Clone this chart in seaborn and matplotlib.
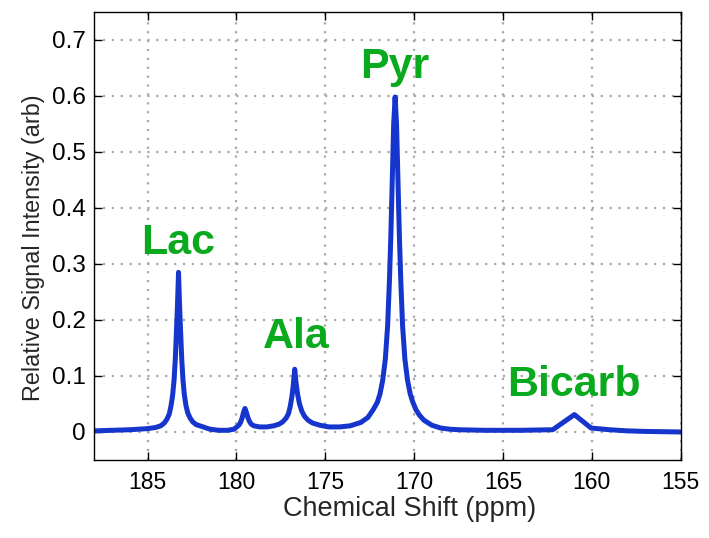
import numpy as np
import pandas as pd
import matplotlib
matplotlib.use("Agg")
import matplotlib.pyplot as plt
import seaborn as sns

# ---- data ----
shift_ppm = [188.0, 187.0, 186.0, 185.0, 184.56, 184.26, 184.06, 183.91, 183.78, 183.68,
             183.59, 183.51, 183.44, 183.38, 183.32, 183.26, 183.2, 183.14, 183.08, 183.01,
             182.93, 182.84, 182.74, 182.61, 182.46, 182.26, 181.96, 181.5, 181.0,
             180.5, 180.14, 180.02, 179.87, 179.77, 179.68, 179.6, 179.52, 179.44, 179.36,
             179.27, 179.17, 179.02, 178.7, 178.3, 177.9, 177.6, 177.4, 177.2, 177.07,
             176.97, 176.88, 176.8, 176.72, 176.64, 176.55, 176.45, 176.32, 176.17, 175.97,
             175.72, 175.3, 174.8, 174.2, 173.6, 173.0, 172.6, 172.3, 172.07, 171.92,
             171.77, 171.62, 171.49, 171.39, 171.31, 171.23, 171.15, 171.07, 170.99, 170.91,
             170.83, 170.75, 170.65, 170.52, 170.37, 170.22, 170.07, 169.9, 169.7, 169.45,
             169.0, 168.5, 168.0, 167.5, 166.0, 164.0, 162.2, 160.98, 160.04, 159.0, 158.0,
             157.0, 156.0, 155.0]
intensity = [0.002, 0.003, 0.004, 0.006, 0.008, 0.011, 0.016, 0.023, 0.032, 0.047,
             0.066, 0.093, 0.131, 0.177, 0.225, 0.285, 0.225, 0.177, 0.131, 0.093,
             0.066, 0.047, 0.034, 0.025, 0.018, 0.013, 0.01, 0.005, 0.003,
             0.003, 0.005, 0.008, 0.012, 0.017, 0.025, 0.035, 0.042, 0.035, 0.026,
             0.019, 0.014, 0.011, 0.009, 0.009, 0.011, 0.014, 0.018, 0.025, 0.033,
             0.046, 0.063, 0.084, 0.112, 0.086, 0.066, 0.05, 0.037, 0.028, 0.021,
             0.016, 0.012, 0.009, 0.009, 0.011, 0.017, 0.026, 0.04, 0.053, 0.068,
             0.092, 0.13, 0.19, 0.27, 0.35, 0.45, 0.55, 0.598, 0.55, 0.45,
             0.35, 0.27, 0.19, 0.13, 0.092, 0.068, 0.053, 0.04, 0.03, 0.021,
             0.012, 0.007, 0.005, 0.004, 0.003, 0.003, 0.004, 0.031, 0.007, 0.004, 0.002,
             0.001, 0.0005, 0.0]

peak_names = ["Lac", "Ala", "Pyr", "Bicarb"]
label_x = [183.28, 176.64, 171.11, 161.0]
label_y = [0.318, 0.15, 0.632, 0.064]

x_ticks = [185, 180, 175, 170, 165, 160, 155]
x_tick_labels = ["185", "180", "175", "170", "165", "160", "155"]
y_ticks = [0, 0.1, 0.2, 0.3, 0.4, 0.5, 0.6, 0.7]
y_tick_labels = ["0", "0.1", "0.2", "0.3", "0.4", "0.5", "0.6", "0.7"]

df = pd.DataFrame({"shift": shift_ppm, "intensity": intensity})

sns.set_theme(style="white")
plt.rcParams["font.family"] = ["Liberation Sans", "DejaVu Sans"]

fig = plt.figure(figsize=(7.09, 5.38), dpi=100)
ax = fig.add_axes([0.133, 0.145, 0.827, 0.833])

ax.grid(True, which="major", color="#a8a8a8", linestyle=(0, (1, 3)), linewidth=1.6)
ax.set_axisbelow(True)

sns.lineplot(data=df, x="shift", y="intensity", ax=ax, sort=False, estimator=None,
             color="#1535CC", linewidth=3.6, solid_joinstyle="round", solid_capstyle="round")

for name, lx, ly in zip(peak_names, label_x, label_y):
    ax.text(lx, ly, name, color="#0AAA1E", fontsize=31, fontweight="bold",
            ha="center", va="baseline")

ax.set_xlim(188, 155)
ax.set_ylim(-0.05, 0.75)
ax.set_xticks(x_ticks)
ax.set_xticklabels(x_tick_labels)
ax.set_yticks(y_ticks)
ax.set_yticklabels(y_tick_labels)

ax.tick_params(direction="in", length=6, width=1, colors="black",
               top=True, right=True, bottom=True, left=True)
ax.tick_params(axis="x", labelsize=16.5, pad=8)
ax.tick_params(axis="y", labelsize=17.5, pad=6)
for s in ax.spines.values():
    s.set_color("black")
    s.set_linewidth(1.0)

ax.set_xlabel("Chemical Shift (ppm)", fontsize=19.5)
ax.xaxis.set_label_coords(0.538, -0.081, transform=ax.transAxes)
ax.xaxis.label.set_va("top")
ax.set_ylabel("Relative Signal Intensity (arb)", fontsize=16.8)
ax.yaxis.set_label_coords(-0.084, 0.474, transform=ax.transAxes)

fig.savefig("out.png", dpi=100)
